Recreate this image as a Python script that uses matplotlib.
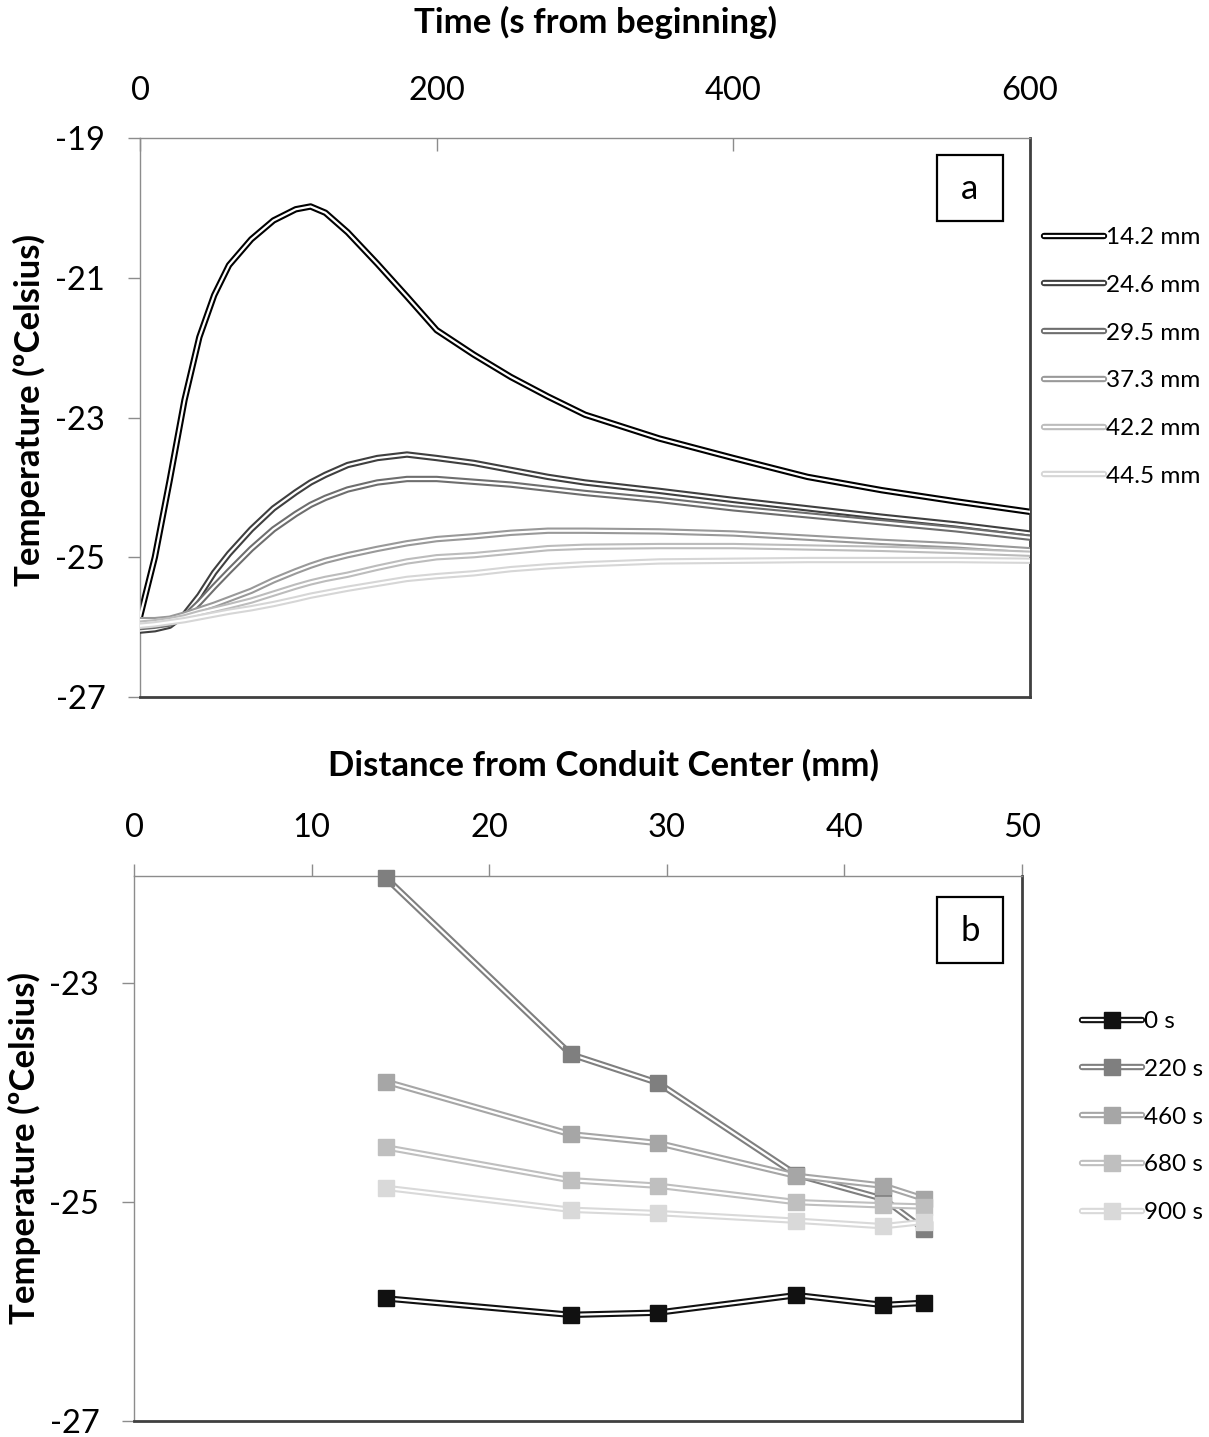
import matplotlib
matplotlib.use("Agg")
import matplotlib.pyplot as plt
from matplotlib.patches import Rectangle
from matplotlib.legend_handler import HandlerTuple
from matplotlib.lines import Line2D

plt.rcParams['font.family'] = ['Lato', 'DejaVu Sans']
plt.rcParams['axes.unicode_minus'] = False

# ---------------- data: panel a ----------------
time_s = [0, 10, 20, 30, 40, 50, 60, 75, 90, 105, 115, 125, 140, 160, 180, 200,
          225, 250, 275, 300, 350, 400, 450, 500, 550, 600]
t_14_2 = [-25.85, -25.0, -23.9, -22.75, -21.85, -21.25, -20.82, -20.45, -20.18, -20.02, -19.98, -20.07,
          -20.35, -20.8, -21.27, -21.75, -22.1, -22.42, -22.7, -22.96, -23.3, -23.58, -23.85, -24.04,
          -24.2, -24.35]
t_24_6 = [-26.05, -26.03, -25.98, -25.82, -25.55, -25.22, -24.95, -24.6, -24.3, -24.07, -23.93, -23.82,
          -23.68, -23.58, -23.53, -23.58, -23.65, -23.75, -23.85, -23.93, -24.05, -24.18, -24.3, -24.42,
          -24.53, -24.66]
t_29_5 = [-26.0, -25.98, -25.95, -25.85, -25.65, -25.42, -25.2, -24.88, -24.6, -24.38, -24.25, -24.15,
          -24.03, -23.93, -23.88, -23.88, -23.92, -23.96, -24.02, -24.08, -24.18, -24.3, -24.4, -24.5,
          -24.6, -24.72]
t_37_3 = [-25.9, -25.9, -25.88, -25.82, -25.75, -25.68, -25.6, -25.48, -25.33, -25.2, -25.12, -25.05,
          -24.97, -24.88, -24.8, -24.74, -24.7, -24.65, -24.62, -24.62, -24.63, -24.66, -24.72, -24.78,
          -24.83, -24.9]
t_42_2 = [-25.95, -25.93, -25.9, -25.86, -25.8, -25.75, -25.7, -25.62, -25.52, -25.42, -25.36, -25.31,
          -25.25, -25.15, -25.06, -25.0, -24.97, -24.92, -24.87, -24.85, -24.84, -24.84, -24.86, -24.88,
          -24.91, -24.95]
t_44_5 = [-25.98, -25.96, -25.93, -25.9, -25.86, -25.82, -25.78, -25.73, -25.67, -25.6, -25.55, -25.51,
          -25.45, -25.38, -25.31, -25.27, -25.23, -25.17, -25.13, -25.1, -25.06, -25.05, -25.04, -25.04,
          -25.04, -25.05]
depth_labels = ['14.2 mm', '24.6 mm', '29.5 mm', '37.3 mm', '42.2 mm', '44.5 mm']

# ---------------- data: panel b ----------------
distance_mm = [14.2, 24.6, 29.5, 37.3, 42.2, 44.5]
at_0s = [-25.88, -26.03, -26.01, -25.85, -25.94, -25.92]
at_220s = [-22.04, -23.65, -23.91, -24.75, -24.97, -25.25]
at_460s = [-23.9, -24.38, -24.46, -24.76, -24.85, -24.97]
at_680s = [-24.5, -24.8, -24.85, -25.0, -25.03, -25.04]
at_900s = [-24.87, -25.07, -25.1, -25.17, -25.22, -25.18]
time_labels = ['0 s', '220 s', '460 s', '680 s', '900 s']

a_colors = ['#000000', '#3f3f3f', '#6e6e6e', '#999999', '#bcbcbc', '#d6d6d6']
b_colors = ['#111111', '#7f7f7f', '#a6a6a6', '#bfbfbf', '#d9d9d9']

W, H = 1209, 1437
fig = plt.figure(figsize=(W / 100, H / 100), dpi=100)

def fx(px):
    return px / W

def fy(py):
    return 1 - py / H

axA = fig.add_axes([fx(140), fy(697), fx(1030) - fx(140), fy(138) - fy(697)])
axB = fig.add_axes([fx(134), fy(1421), fx(1022) - fx(134), fy(876) - fy(1421)])

OUT_LW = 4.6
IN_LW = 1.6
TICK_FS = 23.5

def style_axes(ax, xdir):
    for s in ['left', 'top']:
        ax.spines[s].set_color('#8c8c8c')
        ax.spines[s].set_linewidth(1.0)
    for s in ['right', 'bottom']:
        ax.spines[s].set_color('#404040')
        ax.spines[s].set_linewidth(2.0)
    ax.xaxis.tick_top()
    ax.tick_params(axis='x', direction=xdir, length=9, width=1, color='#8c8c8c',
                   labelsize=TICK_FS, pad=(23 if xdir == 'in' else 15))
    ax.tick_params(axis='y', direction='out', length=9, width=1, color='#8c8c8c',
                   labelsize=TICK_FS, pad=16)
    ax.tick_params(axis='x', which='both', bottom=False)
    ax.tick_params(axis='y', which='both', right=False)

# panel a
series_a = [t_14_2, t_24_6, t_29_5, t_37_3, t_42_2, t_44_5]
handles_a = []
for i, (vals, c) in enumerate(zip(series_a, a_colors)):
    axA.plot(time_s, vals, color=c, lw=OUT_LW, solid_joinstyle='round', zorder=2 + 2 * i)
    axA.plot(time_s, vals, color='white', lw=IN_LW, solid_joinstyle='round', zorder=3 + 2 * i)
    h1 = Line2D([], [], color=c, lw=OUT_LW, solid_capstyle='round')
    h2 = Line2D([], [], color='white', lw=IN_LW)
    handles_a.append((h1, h2))
axA.set_xlim(0, 600)
axA.set_ylim(-27, -19)
axA.set_xticks([0, 200, 400, 600])
axA.set_yticks([-27, -25, -23, -21, -19])
style_axes(axA, 'in')

# panel b
series_b = [at_0s, at_220s, at_460s, at_680s, at_900s]
handles_b = []
for i, (vals, c) in enumerate(zip(series_b, b_colors)):
    z = 2 + 3 * i
    axB.plot(distance_mm, vals, color=c, lw=OUT_LW, zorder=z, clip_on=False)
    axB.plot(distance_mm, vals, color='white', lw=IN_LW, zorder=z + 1, clip_on=False)
    axB.plot(distance_mm, vals, ls='none', marker='s', ms=12, color=c,
             markeredgecolor=c, zorder=z + 2, clip_on=False)
    h1 = Line2D([], [], color=c, lw=OUT_LW, solid_capstyle='round')
    h2 = Line2D([], [], color='white', lw=IN_LW)
    h3 = Line2D([], [], ls='none', marker='s', ms=12, color=c)
    handles_b.append((h1, h2, h3))
axB.set_xlim(0, 50)
axB.set_ylim(-27, -22.02)
axB.set_xticks([0, 10, 20, 30, 40, 50])
axB.set_yticks([-27, -25, -23])
style_axes(axB, 'out')

# axis titles
TITLE_FS = 25
fig.text(fx(595), fy(22), 'Time (s from beginning)', ha='center', va='center',
         fontsize=TITLE_FS, fontweight='bold')
fig.text(fx(29), fy(410), 'Temperature (ºCelsius)', ha='center', va='center',
         fontsize=TITLE_FS, fontweight='bold', rotation=90)
fig.text(fx(604), fy(765), 'Distance from Conduit Center (mm)', ha='center', va='center',
         fontsize=TITLE_FS, fontweight='bold')
fig.text(fx(24), fy(1148), 'Temperature (ºCelsius)', ha='center', va='center',
         fontsize=TITLE_FS, fontweight='bold', rotation=90)

# panel label boxes
for (x0, y0, lab) in [(937, 155, 'a'), (937, 897, 'b')]:
    fig.patches.append(Rectangle((fx(x0), fy(y0 + 66)), fx(66), 66 / H, transform=fig.transFigure,
                                 facecolor='white', edgecolor='black', lw=1.6, zorder=20))
    fig.text(fx(x0 + 33), fy(y0 + 34), lab, ha='center', va='center', fontsize=25, zorder=21)

# legends
LEG_FS = 17.5
fig.legend(handles_a, depth_labels, loc='upper left', bbox_to_anchor=(fx(1044), fy(227)),
           frameon=False, borderpad=0, borderaxespad=0, fontsize=LEG_FS, handlelength=2.45,
           handletextpad=0.1, labelspacing=1.1,
           handler_map={tuple: HandlerTuple(ndivide=1)})
fig.legend(handles_b, time_labels, loc='upper left', bbox_to_anchor=(fx(1082), fy(1011)),
           frameon=False, borderpad=0, borderaxespad=0, fontsize=LEG_FS, handlelength=2.45,
           handletextpad=0.1, labelspacing=1.1,
           handler_map={tuple: HandlerTuple(ndivide=1)})

fig.savefig('out.png', dpi=100, facecolor='white')
